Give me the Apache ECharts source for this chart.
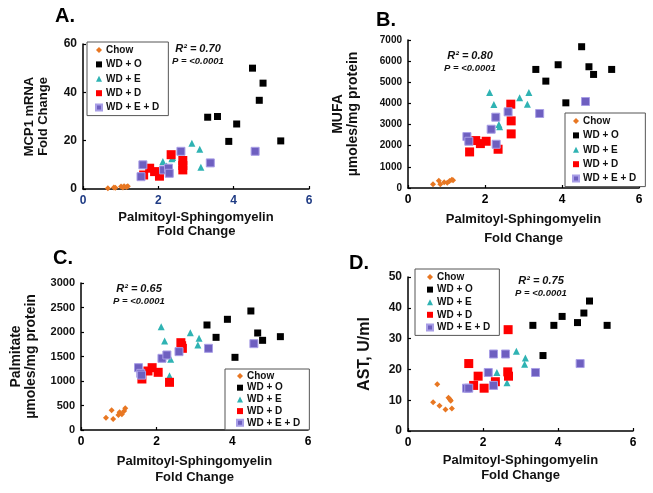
<!DOCTYPE html>
<html>
<head>
<meta charset="utf-8">
<script src="https://cdn.jsdelivr.net/npm/echarts@6/dist/echarts.min.js"></script>
<style>html,body{margin:0;padding:0;background:#fff}#c{width:653px;height:493px}</style>
</head>
<body>
<div id="c"></div>
<script>
// ---- Data (x = Palmitoyl-Sphingomyelin fold change, y = panel measure) ----
const groupNames = ['Chow', 'WD + O', 'WD + E', 'WD + D', 'WD + E + D'];
const xTicks = [0, 2, 4, 6];

// Panel A: MCP1 mRNA fold change
const A_chow = [[0.66,0.3],[0.82,0.6],[0.86,0.5],[1.01,1.0],[1.06,0.6],[1.09,1.1],[1.15,0.8],[1.19,1.1]];
const A_wdo  = [[3.31,29.7],[3.57,30],[3.87,19.7],[4.08,26.9],[4.50,50],[4.68,36.7],[4.78,43.8],[5.25,19.9]];
const A_wde  = [[2.12,11.4],[2.22,9.5],[2.36,12.5],[2.38,13],[2.89,18.9],[3.10,16.4],[3.13,9.0]];
const A_wdd  = [[1.61,5.8],[1.77,8.6],[1.90,7.2],[2.03,5.3],[2.34,14.2],[2.65,11.8],[2.65,9.7],[2.65,7.9]];
const A_wded = [[1.54,5.1],[1.59,10],[2.14,7.9],[2.27,8.6],[2.29,6.5],[2.60,15.6],[3.38,10.8],[4.57,15.6]];

// Panel B: MUFA µmoles/mg protein
const B_chow = [[0.65,174],[0.80,348],[0.84,174],[0.94,269],[1.02,253],[1.08,332],[1.14,395],[1.17,363]];
const B_wdo  = [[3.32,5608],[3.58,5055],[3.90,5830],[4.10,4028],[4.51,6682],[4.70,5735],[4.82,5371],[5.29,5608]];
const B_wde  = [[2.12,4518],[2.23,3950],[2.36,3000],[2.38,2900],[2.90,4265],[3.10,3965],[3.14,4518]];
const B_wdd  = [[1.60,1706],[1.76,2243],[1.88,2100],[2.03,2211],[2.34,1833],[2.67,3965],[2.68,3175],[2.68,2559]];
const B_wded = [[1.53,2433],[1.58,2211],[2.16,2780],[2.28,3349],[2.29,2069],[2.60,3602],[3.42,3523],[4.61,4091]];

// Panel C: Palmitate µmoles/mg protein
const C_chow = [[0.66,252],[0.81,401],[0.85,224],[0.99,306],[1.02,360],[1.08,320],[1.14,388],[1.17,442]];
const C_wdo  = [[3.33,2143],[3.57,1891],[3.87,2259],[4.07,1483],[4.49,2429],[4.67,1980],[4.80,1830],[5.27,1905]];
const C_wde  = [[2.12,2109],[2.21,1816],[2.30,1517],[2.34,1109],[2.37,1442],[2.89,1986],[3.09,1735],[3.12,1871]];
const C_wdd  = [[1.61,1041],[1.77,1204],[1.88,1272],[2.04,1177],[2.34,973],[2.64,1782],[2.66,1720],[2.68,1667]];
const C_wded = [[1.52,1272],[1.58,1156],[1.60,1120],[2.14,1463],[2.27,1531],[2.59,1599],[3.37,1667],[4.57,1762]];

// Panel D: AST, U/ml
const D_chow = [[0.67,9.3],[0.78,15.2],[0.84,8.2],[1.00,7.0],[1.08,10.8],[1.12,10.2],[1.14,9.8],[1.17,7.3]];
const D_wdo  = [[3.33,34.3],[3.60,24.5],[3.89,34.3],[4.11,37.2],[4.52,35.2],[4.69,38.3],[4.84,42.2],[5.31,34.3]];
const D_wde  = [[2.37,19.0],[2.64,15.7],[2.89,25.9],[3.11,21.7],[3.13,23.7]];
const D_wdd  = [[1.62,21.9],[1.75,14.8],[1.87,17.8],[2.03,13.9],[2.33,16.0],[2.66,19.2],[2.67,32.9],[2.68,17.8]];
const D_wded = [[1.56,13.9],[1.62,13.9],[2.14,19.0],[2.28,25.0],[2.28,14.8],[2.60,25.0],[3.40,19.0],[4.59,21.9]];

const stats = [
  {r2: 'R² = 0.70', p: 'P = <0.0001'},
  {r2: 'R² = 0.80', p: 'P = <0.0001'},
  {r2: 'R² = 0.65', p: 'P = <0.0001'},
  {r2: 'R² = 0.75', p: 'P = <0.0001'}
];

// ---- Styling / layout ----
const FONT = 'Liberation Sans, Arial, sans-serif';
const styles = [
  {symbol: 'diamond', size: 6, color: '#E87722', border: '#E87722'},
  {symbol: 'rect', size: 7, color: '#000000', border: '#000000'},
  {symbol: 'triangle', size: 7, color: '#2FB3B3', border: '#2FB3B3'},
  {symbol: 'rect', size: 9, color: '#FF0000', border: '#FF0000'},
  {symbol: 'rect', size: 8, color: '#6E5FC0', border: '#A89EE6'}
];

const panels = [
  {data: [A_chow, A_wdo, A_wde, A_wdd, A_wded], grid: {left: 83, top: 44, width: 226, height: 145},
   yMax: 60, yInt: 20, yName: 'MCP1 mRNA\nFold Change', yNameSize: 13, yNameLH: 14, yGap: 33,
   xGap: 21, xLH: 14, xColor: '#1F3B84', yLabelSize: 12,
   legend: {left: 87, top: 42, fs: 10, lh: 12, gap: 2.4, pad: [2, 9, 2, 8]},
   letter: {t: 'A.', x: 55, y: 6}, stat: {x: 198, y: 43}},
  {data: [B_chow, B_wdo, B_wde, B_wdd, B_wded], grid: {left: 408, top: 40, width: 231, height: 148},
   yMax: 7000, yInt: 1000, yName: 'MUFA\nµmoles/mg protein', yNameSize: 14, yNameLH: 15, yGap: 47,
   xGap: 22, xLH: 19, xColor: '#000', yLabelSize: 10,
   legend: {left: 565, top: 113, fs: 10, lh: 12, gap: 2.4, pad: [2, 9, 2, 7]},
   letter: {t: 'B.', x: 376, y: 10}, stat: {x: 470, y: 50}},
  {data: [C_chow, C_wdo, C_wde, C_wdd, C_wded], grid: {left: 81, top: 283, width: 227, height: 147},
   yMax: 3000, yInt: 500, yName: 'Palmitate\nµmoles/mg protein', yNameSize: 14, yNameLH: 15, yGap: 42,
   xGap: 23, xLH: 16, xColor: '#000', yLabelSize: 11,
   legend: {left: 225, top: 369, fs: 10, lh: 10, gap: 1.7, pad: [2, 9, 2, 11]},
   letter: {t: 'C.', x: 53, y: 248}, stat: {x: 139, y: 283}},
  {data: [D_chow, D_wdo, D_wde, D_wdd, D_wded], grid: {left: 408, top: 277, width: 225, height: 154},
   yMax: 50, yInt: 10, yName: 'AST, U/ml', yNameSize: 16, yNameLH: 18, yGap: 34,
   xGap: 22, xLH: 15, xColor: '#000', yLabelSize: 12,
   legend: {left: 415, top: 269, fs: 10, lh: 10, gap: 2.6, pad: [3, 9, 3, 11]},
   letter: {t: 'D.', x: 349, y: 253}, stat: {x: 541, y: 275}}
];

const option = {
  animation: false,
  backgroundColor: '#fff',
  textStyle: {fontFamily: FONT},
  grid: [], xAxis: [], yAxis: [], series: [], legend: [], graphic: []
};

panels.forEach((p, i) => {
  option.grid.push(Object.assign({containLabel: false}, p.grid));
  option.xAxis.push({
    type: 'value', gridIndex: i, min: xTicks[0], max: xTicks[xTicks.length - 1], interval: 2,
    name: 'Palmitoyl-Sphingomyelin\nFold Change', nameLocation: 'middle', nameGap: p.xGap,
    nameTextStyle: {fontFamily: FONT, fontWeight: 'bold', fontSize: 13, lineHeight: p.xLH, color: '#111', verticalAlign: 'top'},
    axisLine: {show: true, lineStyle: {color: '#000', width: 1.5}},
    axisTick: {show: true, inside: true, length: 3, lineStyle: {color: '#000', width: 1.2}},
    axisLabel: {fontFamily: FONT, fontWeight: 'bold', fontSize: 12, color: p.xColor, margin: 6, formatter: v => String(v)},
    splitLine: {show: false}
  });
  option.yAxis.push({
    type: 'value', gridIndex: i, min: 0, max: p.yMax, interval: p.yInt,
    name: p.yName, nameLocation: 'middle', nameGap: p.yGap, nameRotate: 90,
    nameTextStyle: {fontFamily: FONT, fontWeight: 'bold', fontSize: p.yNameSize, lineHeight: p.yNameLH, color: '#111'},
    axisLine: {show: true, lineStyle: {color: '#000', width: 1.5}},
    axisTick: {show: true, inside: true, length: 3, lineStyle: {color: '#000', width: 1.2}},
    axisLabel: {fontFamily: FONT, fontWeight: 'bold', fontSize: p.yLabelSize, color: '#111', margin: 6, formatter: v => String(v)},
    splitLine: {show: false}
  });
  p.data.forEach((d, g) => {
    const s = styles[g];
    option.series.push({
      type: 'scatter', name: groupNames[g], xAxisIndex: i, yAxisIndex: i,
      data: d, symbol: s.symbol, symbolSize: s.size,
      itemStyle: {color: s.color, borderColor: s.border, borderWidth: g === 4 ? 1 : 0, opacity: 1},
      z: 2 + g
    });
  });
  const L = p.legend;
  option.legend.push({
    orient: 'vertical', left: L.left, top: L.top, padding: L.pad, itemGap: L.gap,
    itemWidth: 6, itemHeight: 6, selectedMode: false,
    borderColor: '#555', borderWidth: 1, backgroundColor: '#fff',
    textStyle: {fontFamily: FONT, fontWeight: 'bold', fontSize: L.fs, lineHeight: L.lh, color: '#111', padding: [0, 0, 0, -1]},
    data: groupNames.map((n, g) => ({name: n, icon: styles[g].symbol}))
  });
  option.graphic.push({
    type: 'text', left: p.letter.x, top: p.letter.y,
    style: {text: p.letter.t, font: 'bold 20px ' + FONT, fill: '#000'}
  });
  option.graphic.push({
    type: 'text', x: p.stat.x, y: p.stat.y,
    style: {text: stats[i].r2, font: 'italic bold 11px ' + FONT, fill: '#111', textAlign: 'center', textVerticalAlign: 'top'}
  });
  option.graphic.push({
    type: 'text', x: p.stat.x, y: p.stat.y + 13,
    style: {text: stats[i].p, font: 'italic bold 9.5px ' + FONT, fill: '#111', textAlign: 'center', textVerticalAlign: 'top'}
  });
});

const chart = echarts.init(document.getElementById('c'), null, {renderer: 'canvas'});
chart.setOption(option);
</script>
</body>
</html>
